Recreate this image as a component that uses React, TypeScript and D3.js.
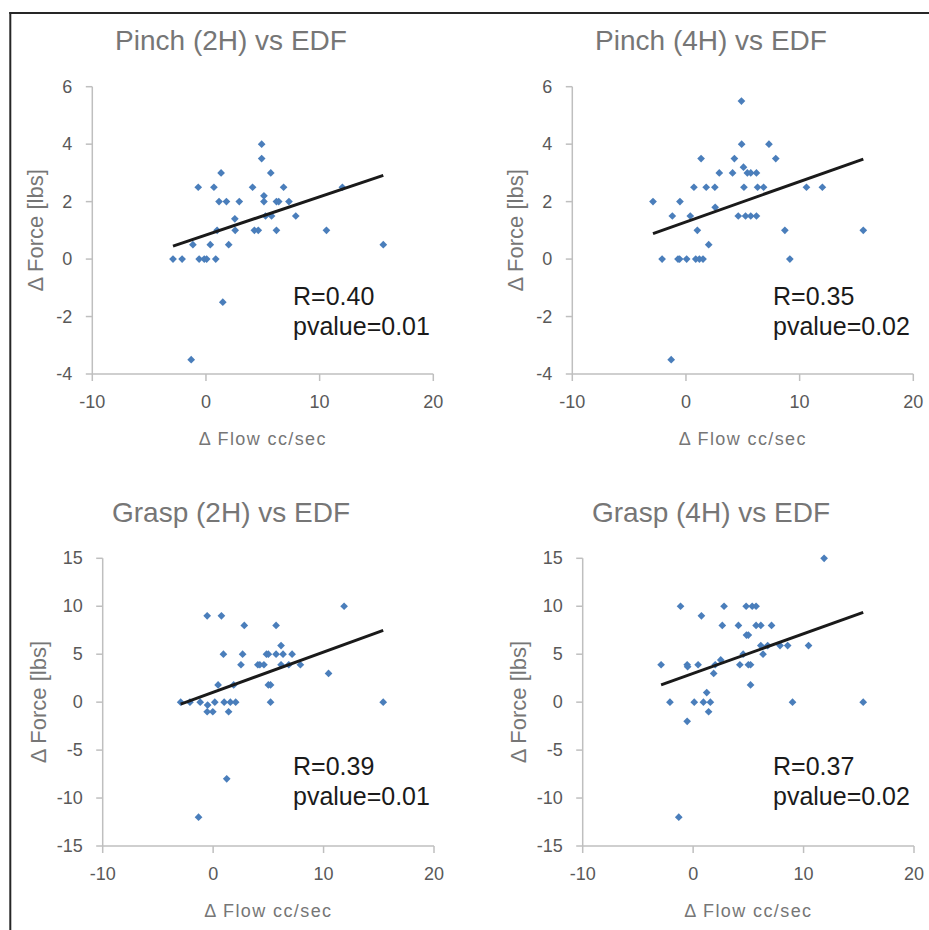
import React from "react";
import * as d3 from "d3";

// ---- Data ----
const pinch2hFlow = [-2.9, -2.1, -1.15, -0.68, -0.6, -0.15, 0.06, -1.3, 0.7, 0.86, 0.38, 0.98, 1.15, 1.33, 1.48, 1.8, 2.0, 2.54, 2.57, 2.93, 4.1, 4.26, 4.6, 4.9, 4.9, 5.1, 5.1, 5.24, 5.7, 5.77, 6.2, 6.2, 6.4, 6.83, 7.3, 7.9, 10.6, 12.0, 15.6];
const pinch2hForce = [0, 0, 0.5, 2.5, 0, 0, 0, -3.5, 2.5, 0, 0.5, 1, 2, 3, -1.5, 2, 0.5, 1.4, 1, 2, 2.5, 1, 1, 4, 3.5, 2.2, 2, 1.5, 3, 1.5, 1, 2, 2, 2.5, 2, 1.5, 1, 2.5, 0.5];

const pinch4hFlow = [-2.9, -2.1, -1.2, -1.3, -0.7, -0.56, -0.53, 0.06, 0.38, 0.7, 0.86, 1.18, 1.5, 1.0, 1.33, 1.78, 2.0, 2.54, 2.57, 2.93, 4.1, 4.26, 4.6, 4.9, 4.88, 5.06, 5.1, 5.24, 5.7, 6.2, 5.4, 5.7, 6.2, 6.3, 6.83, 7.3, 7.9, 8.7, 9.14, 10.6, 12.0, 15.6];
const pinch4hForce = [2, 0, 1.5, -3.5, 0, 0, 2, 0, 1.5, 2.5, 0, 0, 0, 1, 3.5, 2.5, 0.5, 2.5, 1.8, 3, 3, 3.5, 1.5, 4, 5.5, 3.2, 2.5, 1.5, 1.5, 1.5, 3, 3, 3, 2.5, 2.5, 4, 3.5, 1, 0, 2.5, 2.5, 1];

const grasp2hFlow = [-2.94, -2.1, -1.17, -1.32, -0.54, -0.5, -0.54, -0.03, 0.15, 0.45, 0.75, 0.93, 1.0, 1.23, 1.4, 1.56, 1.86, 2.04, 2.52, 2.67, 2.82, 4.05, 4.23, 4.6, 4.83, 5.0, 5.0, 5.2, 5.2, 5.7, 5.7, 6.15, 6.15, 6.33, 6.85, 7.15, 7.9, 10.45, 11.86, 15.4];
const grasp2hForce = [0, 0, 0, -12, 9, -0.3, -1, -1, 0, 1.8, 9, 5, 0, -8, -1, 0, 1.8, 0, 3.9, 5, 8, 3.9, 3.9, 3.9, 5, 5, 1.8, 1.8, 0, 8, 5, 5.9, 3.9, 5, 3.9, 5, 3.9, 3, 10, 0];

const grasp4hFlow = [-2.9, -2.1, -1.14, -1.3, -0.54, -0.5, -0.54, 0.1, 0.45, 0.75, 0.93, 1.23, 1.56, 1.4, 1.86, 2.0, 2.5, 2.64, 2.8, 4.1, 4.23, 4.53, 4.8, 4.83, 5.0, 5.0, 5.2, 5.2, 5.35, 5.7, 5.7, 6.13, 6.13, 6.33, 6.75, 7.1, 7.87, 8.56, 9.0, 10.45, 11.86, 15.4];
const grasp4hForce = [3.9, 0, 10, -12, 3.9, 3.7, -2, 0, 3.9, 9, 0, 1, 0, -1, 3, 3.9, 4.4, 8, 10, 8, 3.9, 5, 10, 7, 7, 3.9, 3.9, 1.8, 10, 10, 8, 8, 5.9, 5, 5.9, 8, 5.9, 5.9, 0, 5.9, 15, 0];

const panelTitles = ["Pinch (2H) vs EDF", "Pinch (4H) vs EDF", "Grasp (2H) vs EDF", "Grasp (4H) vs EDF"];
const statLabels = [["R=0.40", "pvalue=0.01"], ["R=0.35", "pvalue=0.02"], ["R=0.39", "pvalue=0.01"], ["R=0.37", "pvalue=0.02"]];
const xTicks = [-10, 0, 10, 20];
const pinchYTicks = [-4, -2, 0, 2, 4, 6];
const graspYTicks = [-15, -10, -5, 0, 5, 10, 15];
const xAxisTitle = "Δ Flow cc/sec";
const yAxisTitle = "Δ Force [lbs]";

// ---- Layout ----
type Panel = {
  xs: number[]; ys: number[]; title: string; stats: string[]; yTicks: number[];
  xPx: [number, number]; yPx: [number, number]; titleX: number; titleY: number;
  statX: number; statY: number; yLabelX: number;
};

const panels: Panel[] = [
  { xs: pinch2hFlow, ys: pinch2hForce, title: panelTitles[0], stats: statLabels[0], yTicks: pinchYTicks,
    xPx: [92.3, 433.3], yPx: [374, 86.7], titleX: 231, titleY: 50, statX: 293, statY: 305, yLabelX: 43 },
  { xs: pinch4hFlow, ys: pinch4hForce, title: panelTitles[1], stats: statLabels[1], yTicks: pinchYTicks,
    xPx: [572.3, 913.3], yPx: [374, 86.7], titleX: 711, titleY: 50, statX: 773, statY: 305, yLabelX: 523 },
  { xs: grasp2hFlow, ys: grasp2hForce, title: panelTitles[2], stats: statLabels[2], yTicks: graspYTicks,
    xPx: [102.7, 434], yPx: [846, 558.3], titleX: 231, titleY: 522, statX: 293, statY: 775, yLabelX: 46 },
  { xs: grasp4hFlow, ys: grasp4hForce, title: panelTitles[3], stats: statLabels[3], yTicks: graspYTicks,
    xPx: [582.7, 914], yPx: [846, 558.3], titleX: 711, titleY: 522, statX: 773, statY: 775, yLabelX: 526 },
];

const FONT = "'Liberation Sans', Arial, sans-serif";
const AXIS = "#bfbfbf";
const TICKTXT = "#595959";
const GRAY = "#767676";
const BLUE = "#4a7ebb";

function linReg(xs: number[], ys: number[]) {
  const mx = d3.mean(xs)!, my = d3.mean(ys)!;
  let sxy = 0, sxx = 0;
  xs.forEach((x, i) => { sxy += (x - mx) * (ys[i] - my); sxx += (x - mx) * (x - mx); });
  const b = sxy / sxx;
  return { a: my - b * mx, b };
}

function PanelView({ p }: { p: Panel }) {
  const yExt = d3.extent(p.yTicks) as [number, number];
  const x = d3.scaleLinear().domain([-10, 20]).range(p.xPx);
  const y = d3.scaleLinear().domain(yExt).range(p.yPx);
  const reg = linReg(p.xs, p.ys);
  const [x0, x1] = d3.extent(p.xs) as [number, number];
  const line = d3.line<number>().x((d) => x(d)).y((d) => y(reg.a + reg.b * d));
  const diamond = d3.symbol().type(d3.symbolDiamond2).size(38)()!;
  const yBottom = y(yExt[0]);
  const yTop = y(yExt[1]);
  const xLeft = x(-10);
  const xRight = x(20);
  const midX = (xLeft + xRight) / 2;
  const midY = (yBottom + yTop) / 2;
  return (
    <g>
      <text x={p.titleX} y={p.titleY} textAnchor="middle" fontSize={28} fill={GRAY} fontFamily={FONT}>{p.title}</text>
      {/* y axis */}
      <line x1={xLeft} x2={xLeft} y1={yTop} y2={yBottom} stroke={AXIS} strokeWidth={1.5} />
      {p.yTicks.map((t) => (
        <g key={"y" + t}>
          <line x1={xLeft - 6.5} x2={xLeft} y1={y(t)} y2={y(t)} stroke={AXIS} strokeWidth={1.5} />
          <text x={xLeft - 20} y={y(t) + 6} textAnchor="end" fontSize={18} fill={TICKTXT} fontFamily={FONT}>{t}</text>
        </g>
      ))}
      {/* x axis */}
      <line x1={xLeft} x2={xRight} y1={yBottom} y2={yBottom} stroke={AXIS} strokeWidth={1.5} />
      {xTicks.map((t) => (
        <g key={"x" + t}>
          <line x1={x(t)} x2={x(t)} y1={yBottom} y2={yBottom + 7} stroke={AXIS} strokeWidth={1.5} />
          <text x={x(t)} y={yBottom + 34} textAnchor="middle" fontSize={18} fill={TICKTXT} fontFamily={FONT}>{t}</text>
        </g>
      ))}
      <text x={midX} y={yBottom + 71} textAnchor="middle" fontSize={18} letterSpacing={1.4} fill={GRAY} fontFamily={FONT}>{xAxisTitle}</text>
      <text transform={`translate(${p.yLabelX},${midY}) rotate(-90)`} textAnchor="middle" fontSize={22} fill={GRAY} fontFamily={FONT}>{yAxisTitle}</text>
      {/* points */}
      {p.xs.map((xv, i) => (
        <path key={i} d={diamond} transform={`translate(${x(xv)},${y(p.ys[i])})`} fill={BLUE} />
      ))}
      {/* trend line */}
      <path d={line([x0, x1])!} stroke="#1a1a1a" strokeWidth={3} fill="none" />
      {/* stats */}
      <text x={p.statX} y={p.statY} fontSize={25} fill="#1a1a1a" fontFamily={FONT}>{p.stats[0]}</text>
      <text x={p.statX} y={p.statY + 30} fontSize={25} fill="#1a1a1a" fontFamily={FONT}>{p.stats[1]}</text>
    </g>
  );
}

export default function App() {
  return (
    <svg width={929} height={930} style={{ position: "absolute", left: 0, top: 0, background: "#fff" }}>
      <rect x={0} y={0} width={929} height={930} fill="#fff" />
      <line x1={9.3} x2={929} y1={13} y2={13} stroke="#262626" strokeWidth={2} />
      <line x1={10.3} x2={10.3} y1={12} y2={930} stroke="#262626" strokeWidth={2} />
      {panels.map((p, i) => <PanelView key={i} p={p} />)}
    </svg>
  );
}
